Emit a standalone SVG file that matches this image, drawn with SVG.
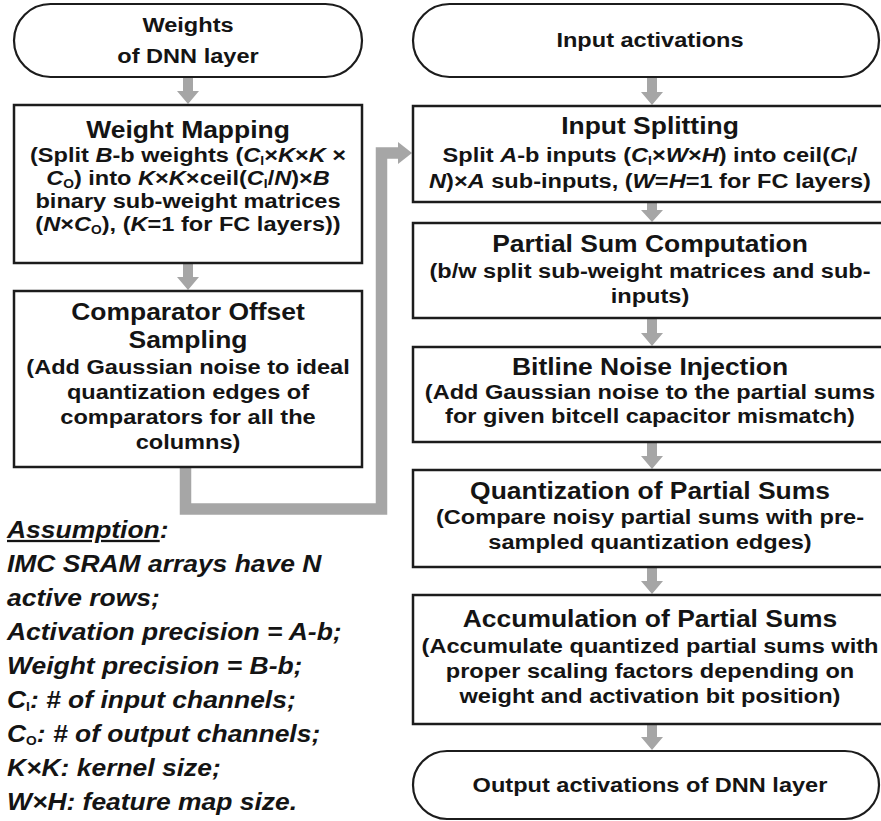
<svg xmlns="http://www.w3.org/2000/svg" width="881" height="821" viewBox="0 0 881 821">
  <style>
    .box { fill: #ffffff; stroke: #1c1c1c; stroke-width: 2.5; }
    .pill { fill: #ffffff; stroke: #1c1c1c; stroke-width: 2.2; }
    text { font-family: "Liberation Sans", Arial, sans-serif; font-weight: bold; fill: #141414; text-anchor: middle; }
    .ttl { font-size: 23px; }
    .bd { font-size: 20.5px; }
    .term { font-size: 20.5px; }
    .note { font-size: 23px; font-style: italic; text-anchor: start; }
    .i { font-style: italic; }
    .sub { font-size: 12px; font-style: normal; }
    .flow { fill: #a6a6a6; }
    .bus { fill: none; stroke: #a6a6a6; stroke-width: 11.5; stroke-linejoin: miter; }
  </style>

  <!-- connectors -->
  <g id="connectors">
    <!-- left column -->
    <path class="flow" d="M183,77 H193 V91 H199 L188,104 L177,91 H183 Z"/>
    <path class="flow" d="M183,263 H193 V277 H199 L188,290 L177,277 H183 Z"/>
    <!-- hand-off from the weight path into the activation path -->
    <path class="bus" d="M185.5,468 V509 H381.5 V153 H399"/>
    <path class="flow" d="M398,142 L412,153 L398,164 Z"/>
    <!-- right column -->
    <path class="flow" d="M647,77 H657 V92 H663 L652,105 L641,92 H647 Z"/>
    <path class="flow" d="M647,202 H657 V210 H663 L652,222 L641,210 H647 Z"/>
    <path class="flow" d="M647,318 H657 V333 H663 L652,346 L641,333 H647 Z"/>
    <path class="flow" d="M647,442 H657 V456 H663 L652,469 L641,456 H647 Z"/>
    <path class="flow" d="M647,567 H657 V581 H663 L652,594 L641,581 H647 Z"/>
    <path class="flow" d="M647,724 H657 V737 H663 L652,750 L641,737 H647 Z"/>
  </g>

  <!-- left column: weight path -->
  <g id="weights">
    <rect class="pill" x="14" y="4" width="348" height="73" rx="36.5"/>
    <g transform="translate(188,0) scale(1.15,1)">
      <text class="term" x="0" y="32">Weights</text>
      <text class="term" x="0" y="63">of DNN layer</text>
    </g>
  </g>

  <g id="weight-mapping">
    <rect class="box" x="14" y="105" width="348" height="158"/>
    <g transform="translate(188,0) scale(1.15,1)">
      <text class="ttl" x="0" y="138">Weight Mapping</text>
      <text class="bd" x="0" y="162">(Split <tspan class="i">B</tspan>-b weights (<tspan class="i">C</tspan><tspan class="sub" dy="3">I</tspan><tspan dy="-3">×</tspan><tspan class="i">K</tspan>×<tspan class="i">K</tspan> ×</text>
      <text class="bd" x="0" y="185"><tspan class="i">C</tspan><tspan class="sub" dy="3">O</tspan><tspan dy="-3">) into </tspan><tspan class="i">K</tspan>×<tspan class="i">K</tspan>×ceil(<tspan class="i">C</tspan><tspan class="sub" dy="3">I</tspan><tspan dy="-3">/</tspan><tspan class="i">N</tspan>)×<tspan class="i">B</tspan></text>
      <text class="bd" x="0" y="208">binary sub-weight matrices</text>
      <text class="bd" x="0" y="231">(<tspan class="i">N</tspan>×<tspan class="i">C</tspan><tspan class="sub" dy="3">O</tspan><tspan dy="-3">), (</tspan><tspan class="i">K</tspan>=1 for FC layers))</text>
    </g>
  </g>

  <g id="comparator-offset">
    <rect class="box" x="14" y="291" width="348" height="176"/>
    <g transform="translate(188,0) scale(1.15,1)">
      <text class="ttl" x="0" y="320">Comparator Offset</text>
      <text class="ttl" x="0" y="348">Sampling</text>
      <text class="bd" x="0" y="374">(Add Gaussian noise to ideal</text>
      <text class="bd" x="0" y="399">quantization edges of</text>
      <text class="bd" x="0" y="424">comparators for all the</text>
      <text class="bd" x="0" y="449">columns)</text>
    </g>
  </g>

  <!-- assumptions -->
  <g id="assumptions" transform="translate(7,0) scale(1.15,1)">
    <text class="note" x="0" y="538"><tspan text-decoration="underline">Assumption</tspan>:</text>
    <text class="note" x="0" y="572">IMC SRAM arrays have N</text>
    <text class="note" x="0" y="606">active rows;</text>
    <text class="note" x="0" y="640">Activation precision = A-b;</text>
    <text class="note" x="0" y="674">Weight precision = B-b;</text>
    <text class="note" x="0" y="708">C<tspan class="sub" dy="3">I</tspan><tspan dy="-3">: # of input channels;</tspan></text>
    <text class="note" x="0" y="742">C<tspan class="sub" dy="3">O</tspan><tspan dy="-3">: # of output channels;</tspan></text>
    <text class="note" x="0" y="776">K×K: kernel size;</text>
    <text class="note" x="0" y="810">W×H: feature map size.</text>
  </g>

  <!-- right column: activation path -->
  <g id="input-activations">
    <rect class="pill" x="413" y="4" width="466" height="73" rx="36.5"/>
    <g transform="translate(650,0) scale(1.15,1)">
      <text class="term" x="0" y="47">Input activations</text>
    </g>
  </g>

  <g id="input-splitting">
    <rect class="box" x="413" y="106" width="472" height="96"/>
    <g transform="translate(650,0) scale(1.15,1)">
      <text class="ttl" x="0" y="134">Input Splitting</text>
      <text class="bd" x="0" y="162">Split <tspan class="i">A</tspan>-b inputs (<tspan class="i">C</tspan><tspan class="sub" dy="3">I</tspan><tspan dy="-3">×</tspan><tspan class="i">W</tspan>×<tspan class="i">H</tspan>) into ceil(<tspan class="i">C</tspan><tspan class="sub" dy="3">I</tspan><tspan dy="-3">/</tspan></text>
      <text class="bd" x="0" y="188"><tspan class="i">N</tspan>)×<tspan class="i">A</tspan> sub-inputs, (<tspan class="i">W</tspan>=<tspan class="i">H</tspan>=1 for FC layers)</text>
    </g>
  </g>

  <g id="partial-sum">
    <rect class="box" x="413" y="223" width="472" height="95"/>
    <g transform="translate(650,0) scale(1.15,1)">
      <text class="ttl" x="0" y="252">Partial Sum Computation</text>
      <text class="bd" x="0" y="278">(b/w split sub-weight matrices and sub-</text>
      <text class="bd" x="0" y="303">inputs)</text>
    </g>
  </g>

  <g id="bitline-noise">
    <rect class="box" x="413" y="347" width="472" height="95"/>
    <g transform="translate(650,0) scale(1.15,1)">
      <text class="ttl" x="0" y="375">Bitline Noise Injection</text>
      <text class="bd" x="0" y="399">(Add Gaussian noise to the partial sums</text>
      <text class="bd" x="0" y="423">for given bitcell capacitor mismatch)</text>
    </g>
  </g>

  <g id="quantization">
    <rect class="box" x="413" y="470" width="472" height="97"/>
    <g transform="translate(650,0) scale(1.15,1)">
      <text class="ttl" x="0" y="499">Quantization of Partial Sums</text>
      <text class="bd" x="0" y="524">(Compare noisy partial sums with pre-</text>
      <text class="bd" x="0" y="549">sampled quantization edges)</text>
    </g>
  </g>

  <g id="accumulation">
    <rect class="box" x="413" y="595" width="472" height="129"/>
    <g transform="translate(650,0) scale(1.15,1)">
      <text class="ttl" x="0" y="627">Accumulation of Partial Sums</text>
      <text class="bd" x="0" y="653">(Accumulate quantized partial sums with</text>
      <text class="bd" x="0" y="678">proper scaling factors depending on</text>
      <text class="bd" x="0" y="703">weight and activation bit position)</text>
    </g>
  </g>

  <g id="output-activations">
    <rect class="pill" x="413" y="751" width="466" height="68" rx="34"/>
    <g transform="translate(650,0) scale(1.15,1)">
      <text class="term" x="0" y="792">Output activations of DNN layer</text>
    </g>
  </g>
</svg>
